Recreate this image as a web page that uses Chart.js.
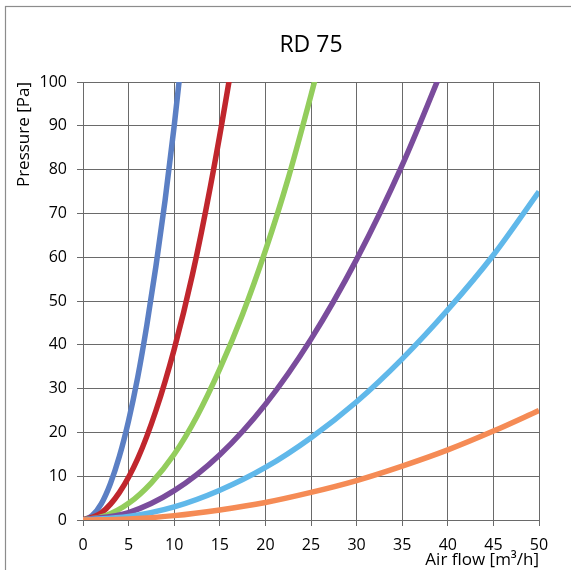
<!DOCTYPE html>
<html>
<head>
<meta charset="utf-8">
<title>RD 75</title>
<script src="https://cdn.jsdelivr.net/npm/chart.js@4.4.1/dist/chart.umd.min.js"></script>
<style>
    html, body { margin: 0; padding: 0; background: #fff; }
    #wrap { width: 571px; height: 570px; }
</style>
</head>
<body>
<div id="wrap"><canvas id="rd-chart" width="571" height="570"></canvas></div>
<script>
// air flow [m3/h] and pressure [Pa]
const blueFlow = [0, 1, 2, 3, 4, 5, 6, 7, 8, 9, 10, 11];
const bluePa = [0, 1, 3.7, 8.3, 14.6, 22.7, 32.6, 44.5, 58, 73, 90, 109];

const redFlow = [0, 2, 4, 6, 8, 10, 12, 14, 16, 17];
const redPa = [0, 1.6, 6.3, 14, 25, 39, 56, 76.5, 100, 113];

const greenFlow = [0, 2.5, 5, 7.5, 10, 12.5, 15, 17.5, 20, 22.5, 25, 27.5];
const greenPa = [0, 1, 3.8, 8.5, 15, 23.7, 34.5, 47, 61.5, 78, 97, 117];

const purpleFlow = [0, 5, 10, 15, 20, 25, 30, 35, 40];
const purplePa = [0, 1.7, 6.7, 14.9, 26.4, 41.3, 59.5, 81, 106];

const skyFlow = [0, 5, 10, 15, 20, 25, 30, 35, 40, 45, 50];
const skyPa = [0, 0.8, 3, 6.8, 12, 18.8, 27, 36.8, 48, 60.5, 75];

const orangeFlow = [0, 5, 10, 15, 20, 25, 30, 35, 40, 45, 50];
const orangePa = [0, 0.25, 1, 2.3, 4, 6.3, 9, 12.3, 16, 20.3, 25];

const xTicks = [0, 5, 10, 15, 20, 25, 30, 35, 40, 45, 50];
const yTicks = [0, 10, 20, 30, 40, 50, 60, 70, 80, 90, 100];

const FONT = "'Open Sans', 'Liberation Sans', sans-serif";
const GRID = '#6a6a6a';

function toPoints(flow, pa) {
    return flow.map(function (q, i) {
        return { x: q, y: pa[i] };
    });
}

function makeSet(flow, pa, color) {
    return {
        data: toPoints(flow, pa),
        borderColor: color,
        backgroundColor: color,
        borderWidth: 5.5,
        pointRadius: 0,
        cubicInterpolationMode: 'monotone',
        clip: 0,
    };
}

// white page, grey frame and the title centred over the plot
const framePlugin = {
    id: 'frame',
    beforeDraw(chart) {
        const ctx = chart.ctx;
        ctx.save();
        ctx.fillStyle = '#fff';
        ctx.fillRect(0, 0, chart.width, chart.height);
        ctx.strokeStyle = '#8c8c8c';
        ctx.lineWidth = 1.2;
        ctx.strokeRect(5.5, 6.5, chart.width + 20, chart.height + 20);
        ctx.restore();
    },
    afterDraw(chart) {
        const ctx = chart.ctx;
        const area = chart.chartArea;
        ctx.save();
        ctx.fillStyle = '#000';
        ctx.font = '23px ' + FONT;
        ctx.textAlign = 'center';
        ctx.textBaseline = 'middle';
        ctx.fillText('RD 75', (area.left + area.right) / 2, 45);
        ctx.restore();
    },
};

const chart = new Chart(document.getElementById('rd-chart'), {
    type: 'line',
    data: {
        datasets: [
            makeSet(orangeFlow, orangePa, '#F58B55'),
            makeSet(skyFlow, skyPa, '#60B8EA'),
            makeSet(purpleFlow, purplePa, '#7A4C9C'),
            makeSet(greenFlow, greenPa, '#93CD5C'),
            makeSet(redFlow, redPa, '#C0262D'),
            makeSet(blueFlow, bluePa, '#5B7FC4'),
        ],
    },
    options: {
        responsive: false,
        animation: false,
        layout: { padding: { top: 82, right: 32, left: 0, bottom: 0 } },
        plugins: {
            legend: { display: false },
            tooltip: { enabled: false },
        },
        scales: {
            x: {
                type: 'linear',
                min: 0,
                max: 50,
                afterFit: function (scale) { scale.height = 50; },
                afterBuildTicks: function (scale) {
                    scale.ticks = xTicks.map(function (v) { return { value: v }; });
                },
                grid: { color: GRID, tickColor: GRID, tickLength: 6, lineWidth: 1 },
                border: { color: GRID, width: 1 },
                ticks: {
                    color: '#000',
                    padding: 10,
                    maxRotation: 0,
                    font: { family: FONT, size: 16 },
                },
                title: {
                    display: true,
                    text: 'Air flow [m³/h]',
                    align: 'end',
                    color: '#000',
                    padding: { top: 0, bottom: 0 },
                    font: { family: FONT, size: 17 },
                },
            },
            y: {
                min: 0,
                max: 100,
                afterFit: function (scale) { scale.width = 83; },
                afterBuildTicks: function (scale) {
                    scale.ticks = yTicks.map(function (v) { return { value: v }; });
                },
                grid: { color: GRID, tickColor: GRID, tickLength: 6, lineWidth: 1 },
                border: { color: GRID, width: 1 },
                ticks: {
                    color: '#000',
                    padding: 10,
                    font: { family: FONT, size: 16 },
                },
                title: {
                    display: true,
                    text: 'Pressure [Pa]',
                    align: 'end',
                    color: '#000',
                    padding: { top: 14, bottom: 0 },
                    font: { family: FONT, size: 17 },
                },
            },
        },
    },
    plugins: [framePlugin],
});
</script>
</body>
</html>
